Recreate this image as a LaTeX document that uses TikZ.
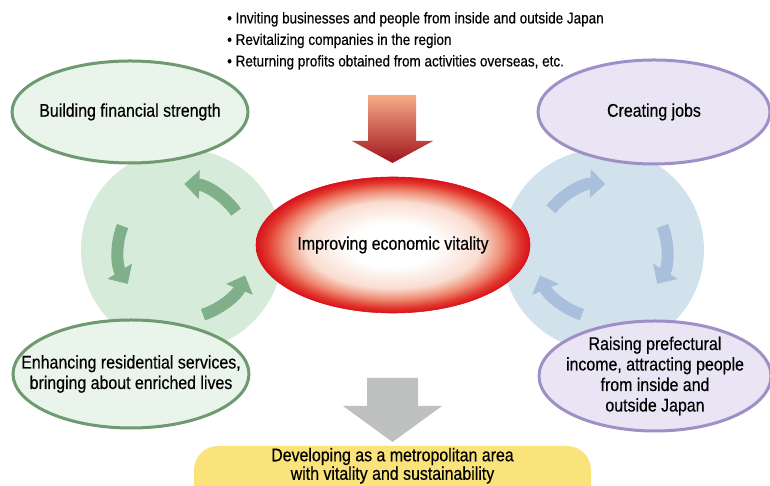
\documentclass[tikz,border=0pt]{standalone}
\usepackage{fontspec}
\setmainfont{Liberation Sans}[FakeStretch=0.87,FakeBold=0.4]
\usepackage{tikz}
\usetikzlibrary{arrows.meta,positioning,shapes.geometric}

\definecolor{circgreen}{HTML}{D6EBD9}
\definecolor{circblue}{HTML}{D2E2EC}
\definecolor{arrgreen}{HTML}{80B08A}
\definecolor{arrblue}{HTML}{AABFDC}
\definecolor{fillgreen}{HTML}{E9F4EB}
\definecolor{linegreen}{HTML}{6F9970}
\definecolor{fillpurple}{HTML}{E9E5F4}
\definecolor{linepurple}{HTML}{9E90C6}
\definecolor{goalyellow}{HTML}{FBE37B}
\definecolor{arrgray}{HTML}{BFC0C0}
\definecolor{rimred}{HTML}{D8121B}
\definecolor{midred}{HTML}{E2382E}
\definecolor{salmon}{HTML}{EE8A72}
\definecolor{blush}{HTML}{F9DCD0}
\definecolor{redtop}{HTML}{F6AC86}
\definecolor{redbot}{HTML}{A0141E}

% inner 25bp square is fitted to the ellipse
\pgfdeclareradialshading{redglow}{\pgfpoint{0bp}{0bp}}{color(0bp)=(white); color(8bp)=(white); color(16bp)=(blush); color(20bp)=(salmon); color(23bp)=(midred); color(25bp)=(rimred); color(50bp)=(rimred)}

\tikzset{
  bigtext/.style={font=\fontsize{18.3}{20.5}\selectfont, align=center},
  goalell/.style={ellipse, draw=linegreen, fill=fillgreen, line width=3pt, inner xsep=-40pt, inner ysep=-20pt, bigtext},
  jobell/.style={ellipse, draw=linepurple, fill=fillpurple, line width=3pt, inner xsep=-40pt, inner ysep=-20pt, bigtext},
  bgcirc/.style={circle, minimum size=202pt, inner sep=0pt},
  greenarr/.style={draw=arrgreen, line width=12pt, -{Triangle[width=28pt,length=15pt,fill=arrgreen]}},
  bluearr/.style={draw=arrblue, line width=12pt, -{Triangle[width=28pt,length=15pt,fill=arrblue]}}
}

\begin{document}
\begin{tikzpicture}[x=1pt,y=1pt]
  \useasboundingbox (0,0) rectangle (770,486);

  % background circles
  \node[bgcirc, fill=circgreen] (lcirc) at (182,236) {};
  \node[bgcirc, fill=circblue] (rcirc) at (603,236) {};

  % cycle arrows, left (anticlockwise)
  \draw[greenarr] ([shift={(35:66)}]lcirc.center) arc[start angle=35, end angle=88, radius=66];
  \draw[greenarr] ([shift={(158:64)}]lcirc.center) arc[start angle=158, end angle=212, radius=64];
  \draw[greenarr] ([shift={(-72:68)}]lcirc.center) arc[start angle=-72, end angle=-22, radius=68];

  % cycle arrows, right (clockwise)
  \draw[bluearr] ([shift={(142:66)}]rcirc.center) arc[start angle=142, end angle=88, radius=66];
  \draw[bluearr] ([shift={(22:64)}]rcirc.center) arc[start angle=22, end angle=-32, radius=64];
  \draw[bluearr] ([shift={(-108:68)}]rcirc.center) arc[start angle=-108, end angle=-158, radius=68];

  % the four goals
  \node[goalell, minimum width=236pt, minimum height=102pt] (finance) at (130,374) {Building financial strength};
  \node[jobell, minimum width=232pt, minimum height=104pt] (jobs) at (654,374) {Creating jobs};
  \node[goalell, minimum width=236pt, minimum height=108pt] (lives) at (131,112)
    {Enhancing residential services,\\bringing about enriched lives};
  \node[jobell, minimum width=232pt, minimum height=110pt] (income) at (655,110)
    {Raising prefectural\\income, attracting people\\from inside and\\outside Japan};

  % centre
  \node[ellipse, shading=redglow, draw=rimred, line width=0.6pt, minimum width=274pt, minimum height=136pt,
        inner sep=0pt, bigtext] (vitality) at (393,241) {Improving economic vitality};

  % measures
  \node[font=\fontsize{15.5}{21.5}\selectfont, align=left, anchor=north west, inner sep=0pt] (measures) at (227,474)
    {\textbullet\ Inviting businesses and people from inside and outside Japan\\
     \textbullet\ Revitalizing companies in the region\\
     \textbullet\ Returning profits obtained from activities overseas, etc.};

  % red arrow into the centre
  \draw[draw=none, top color=redtop, bottom color=redbot]
    (368,391) -- (416,391) -- (416,345) -- (433,345) -- (392.5,323) -- (352,345) -- (368,345) -- cycle;

  % grey arrow to the result
  \fill[arrgray] (367,108) -- (418,108) -- (418,80) -- (442,80) -- (392.5,44) -- (343,80) -- (367,80) -- cycle;

  % result
  \node[fill=goalyellow, rounded corners=24pt, minimum width=397pt, minimum height=84pt] (goal) at (392.5,-2) {};
  \node[font=\fontsize{18.3}{18.5}\selectfont, align=center, below=2pt of goal.north, inner sep=0pt] (goaltext)
    {Developing as a metropolitan area\\with vitality and sustainability};
\end{tikzpicture}
\end{document}
